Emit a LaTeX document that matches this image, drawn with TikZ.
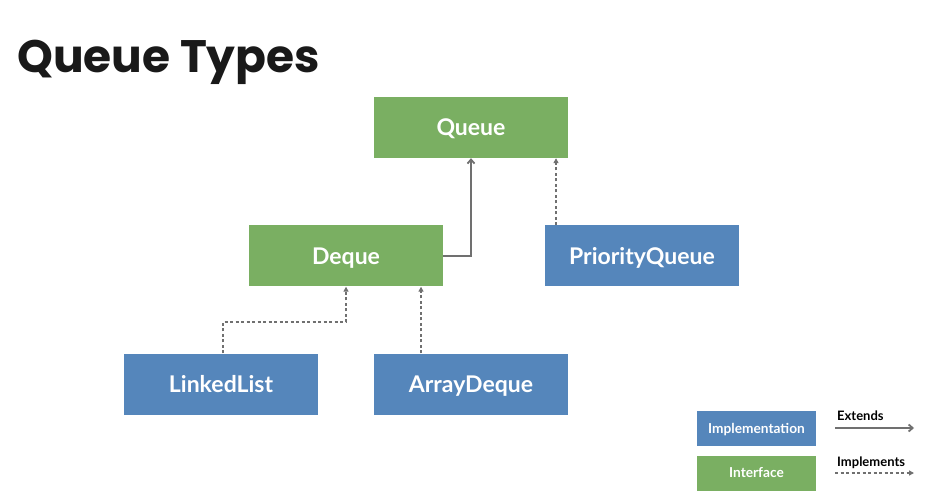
\documentclass[tikz,border=0pt]{standalone}
\usepackage{fontspec}
\setmainfont{Lato}
\newfontfamily\titlefont{Poppins}
\usetikzlibrary{arrows.meta,positioning}

\definecolor{ifacegreen}{RGB}{122,175,98}
\definecolor{implblue}{RGB}{85,134,187}
\definecolor{linkgray}{RGB}{112,112,112}

\tikzset{
  box/.style={rectangle, minimum width=194pt, minimum height=61pt, inner sep=0pt,
    text height=16.5pt, text depth=0pt,
    text=white, font=\fontsize{23}{26}\selectfont\bfseries},
  iface/.style={box, fill=ifacegreen},
  impl/.style={box, fill=implblue},
  legendbox/.style={rectangle, minimum width=119pt, minimum height=35pt, inner sep=0pt,
    text height=9.8pt, text depth=0pt,
    text=white, font=\fontsize{13.7}{15}\selectfont\bfseries},
  extends/.style={draw=linkgray, line width=1.8pt, -{Straight Barb[length=4pt,width=7pt]}},
  implements/.style={draw=linkgray, line width=1.6pt, dash pattern=on 3pt off 2.5pt,
    -{Triangle[length=5pt,width=5pt]}},
  legendtext/.style={anchor=base west, inner sep=0pt, font=\fontsize{13}{15}\selectfont\bfseries}
}

\begin{document}
\begin{tikzpicture}[x=1pt,y=-1pt]
\fill[white] (0,0) rectangle (942,494);
\useasboundingbox (0,0) rectangle (942,494);
% Title
\node(T)[anchor=base west, inner sep=0pt, font=\titlefont\fontsize{45.5}{52}\selectfont\bfseries,
  text=black!90] at (17,73) {Queue Types};
% Nodes
\node(Q)[iface] at (471,127.5) {Queue};
\node(D)[iface] at (346,256) {Deque};
\node(PQ)[impl] at (642,256) {PriorityQueue};
\node(LL)[impl] at (221,384) {LinkedList};
\node(AD)[impl] at (471,384) {ArrayDeque};
% Legend
\node(Impl)[legendbox, fill=implblue] at (756.5,428.5) {Implementation};
\node(Ifc)[legendbox, fill=ifacegreen] at (756.5,473) {Interface};
\coordinate(E1) at (835,428);
\coordinate(E2) at (914,428);
\coordinate(I1) at (835,473);
\coordinate(I2) at (914,473);
\node(Et)[legendtext] at (837,420) {Extends};
\node(It)[legendtext] at (837,466) {Implements};
% Arcs
\draw[extends] (D.east) -| (Q.south);
\draw[implements] (PQ.north -| 556,0) -- (Q.south -| 556,0);
\draw[implements] (LL.north -| 223,0) |- (322,322) -| (D.south);
\draw[implements] (AD.north -| 421,0) -- (D.south -| 421,0);
\draw[extends] (E1) -- (E2);
\draw[implements] (I1) -- (I2);
\end{tikzpicture}
\end{document}
